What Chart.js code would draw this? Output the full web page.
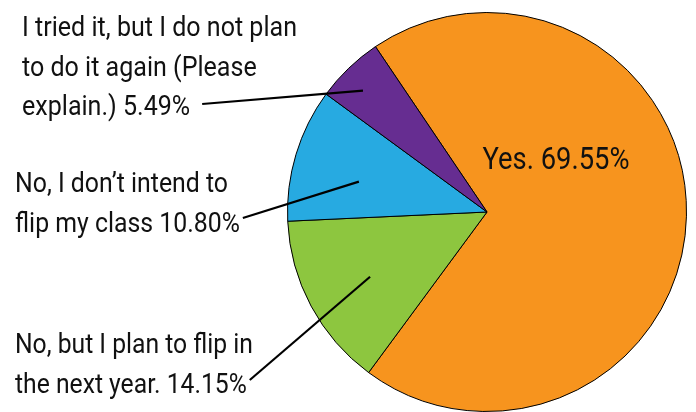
<!DOCTYPE html>
<html>
<head>
  <meta charset="utf-8">
  <title>Flipped classroom survey</title>
  <script src="https://cdn.jsdelivr.net/npm/chart.js@4.4.0/dist/chart.umd.min.js"></script>
  <style>
    html, body { margin: 0; padding: 0; background: #fff; }
    #pie { display: block; }
  </style>
</head>
<body>
  <canvas id="pie" width="696" height="412"></canvas>
<script>
// answers, in the order they go round the pie (clockwise from the top-left)
const answers = [
  'Yes.',
  'No, but I plan to flip in the next year.',
  'No, I don\u2019t intend to flip my class',
  'I tried it, but I do not plan to do it again (Please explain.)'
];
const shares = [69.55, 14.15, 10.80, 5.49];
const sliceColors = ['#f7941e', '#8dc63f', '#27aae1', '#662d91'];

// how each callout is broken into lines (the percentage goes on the last one)
const calloutLines = [
  ['Yes.'],
  ['No, but I plan to flip in', 'the next year.'],
  ['No, I don\u2019t intend to', 'flip my class'],
  ['I tried it, but I do not plan', 'to do it again (Please', 'explain.)']
];

const FONT = "Roboto, 'DejaVu Sans Condensed', sans-serif";

// callouts: text block position, and where on the slice the leader line ends.
// text is squeezed horizontally so the first line fits `fit` pixels (condensed look)
const calloutPlugin = {
  id: 'callouts',
  afterDatasetsDraw(chart, args, opts) {
    const ctx = chart.ctx;
    const arcs = chart.getDatasetMeta(0).data;
    ctx.save();
    ctx.fillStyle = '#111';
    ctx.textBaseline = 'alphabetic';
    opts.items.forEach((item) => {
      const i = item.index;
      const lines = calloutLines[i].slice();
      lines[lines.length - 1] += ' ' + shares[i].toFixed(2) + '%';
      ctx.font = item.size + 'px ' + FONT;
      const squeeze = item.fit / ctx.measureText(lines[0]).width;
      const arc = arcs[i];
      let x = item.x, y = item.y;
      if (item.inside) {
        x = arc.x + item.x;
        y = arc.y + item.y;
      }
      lines.forEach((ln, k) => {
        const w = ctx.measureText(ln).width * squeeze;
        const lx = item.inside ? x - w / 2 : x;
        ctx.save();
        ctx.translate(lx, y + k * item.lineHeight);
        ctx.scale(squeeze, 1);
        ctx.fillText(ln, 0, 0);
        ctx.restore();
      });
      if (item.leader) {
        const last = lines[lines.length - 1];
        const lastY = y + (lines.length - 1) * item.lineHeight;
        const sx = x + ctx.measureText(last).width * squeeze + item.leader.gap;
        const sy = lastY - item.leader.lift;
        const mid = (arc.startAngle + arc.endAngle) / 2 + item.leader.turn;
        const r = arc.outerRadius * item.leader.depth;
        ctx.beginPath();
        ctx.moveTo(sx, sy);
        ctx.lineTo(arc.x + Math.cos(mid) * r, arc.y + Math.sin(mid) * r);
        ctx.lineWidth = 2.2;
        ctx.strokeStyle = '#000';
        ctx.stroke();
      }
    });
    ctx.restore();
  }
};

new Chart(document.getElementById('pie'), {
  type: 'pie',
  data: {
    labels: answers,
    datasets: [{
      data: shares,
      backgroundColor: sliceColors,
      borderColor: '#000',
      borderWidth: 1
    }]
  },
  options: {
    responsive: false,
    animation: false,
    rotation: -34,
    layout: { padding: { left: 287, right: 9, top: 12, bottom: 0 } },
    plugins: {
      legend: { display: false },
      tooltip: { enabled: false },
      callouts: {
        items: [
          { index: 0, inside: true, x: 69, y: -43, size: 31, lineHeight: 40, fit: 147 },
          { index: 1, x: 15, y: 353, size: 27, lineHeight: 40, fit: 238,
            leader: { gap: 3, lift: 13, depth: 0.67, turn: -0.015 } },
          { index: 2, x: 15, y: 192, size: 27, lineHeight: 40, fit: 213,
            leader: { gap: 3, lift: 14, depth: 0.66, turn: -0.06 } },
          { index: 3, x: 22, y: 36, size: 27, lineHeight: 39.5, fit: 275,
            leader: { gap: 12, lift: 11, depth: 0.87, turn: -0.03 } }
        ]
      }
    }
  },
  plugins: [calloutPlugin]
});
</script>
</body>
</html>
